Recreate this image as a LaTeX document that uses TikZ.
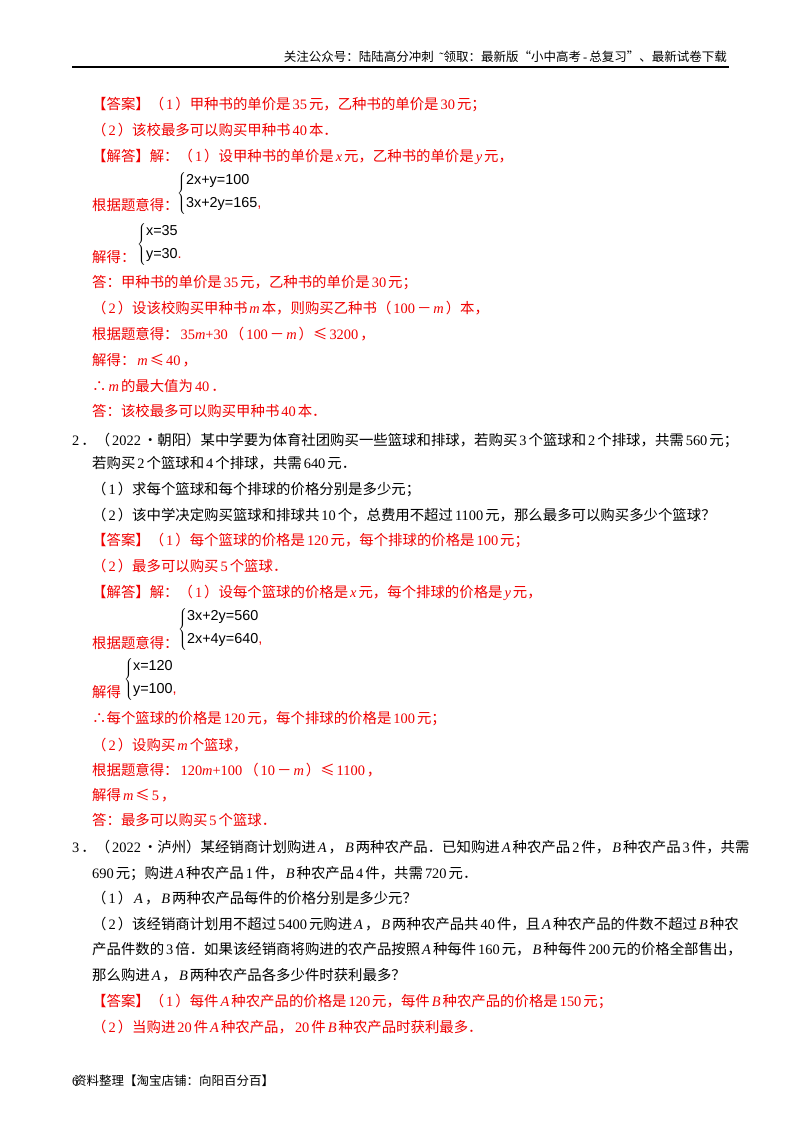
\documentclass[tikz,border=0pt]{standalone}
\usepackage{fontspec}
\setmainfont{Liberation Serif}
\newfontfamily\cjk{Noto Sans CJK SC}
\newfontfamily\sysf{Liberation Sans}
\newcount\cc
\cc="3000 \loop \XeTeXcharclass\cc=1 \advance\cc by 1 \ifnum\cc<"A000 \repeat
\cc="FF00 \loop \XeTeXcharclass\cc=1 \advance\cc by 1 \ifnum\cc<"FFF0 \repeat
\XeTeXcharclass`∴=1
\XeTeXcharclass`•=1
\XeTeXcharclass`≤=1
\XeTeXcharclass`“=1
\XeTeXcharclass`”=1
\XeTeXinterchartokenstate=1
\XeTeXinterchartoks 0 1 = {\hskip2pt\cjk}
\XeTeXinterchartoks 1 0 = {\hskip2pt\rmfamily}
\XeTeXinterchartoks 4095 1 = {\cjk}
\newcommand\vi[1]{\hskip2pt\textit{\rmfamily #1}\hskip2pt}
\definecolor{ans}{RGB}{240,0,0}
\tikzset{
 txt/.style={anchor=base west,inner sep=0pt,font=\fontsize{14.4}{17}\selectfont},
 rtxt/.style={txt,text=ans},
 sysn/.style={anchor=west,inner sep=0pt,font=\fontsize{14.4}{17}\selectfont}
}
\begin{document}
\begin{tikzpicture}[x=1pt,y=-1pt]
\useasboundingbox[fill=white] (0,0) rectangle (800,1132);
% header
\node[anchor=base east,inner sep=0pt,font=\fontsize{12.5}{14}\selectfont\cjk] (hd) at (727,62) {关注公众号：陆陆高分冲刺\ \ {\rmfamily ˜}领取：最新版“小中高考-总复习”、最新试卷下载};
\coordinate (r1) at (72,67); \coordinate (r2) at (729,67);
\draw[line width=1.5pt] (r1) -- (r2);
% block 1
\node[rtxt] (a1) at (92,109) {【答案】（1）甲种书的单价是35元，乙种书的单价是30元；};
\node[rtxt] (a2) at (92,135) {（2）该校最多可以购买甲种书40本．};
\node[rtxt] (a3) at (92,161) {【解答】解：（1）设甲种书的单价是\vi{x}元，乙种书的单价是\vi{y}元，};
\node[rtxt] (a4) at (92,210) {根据题意得：};
\node[sysn] (s1) at (177,193) {$\left\{\begin{array}{@{}l@{}}\mbox{\sysf 2x+y=100}\\[6pt]\mbox{\sysf 3x+2y=165\textcolor{ans}{,}}\end{array}\right.$};
\node[rtxt] (a5) at (92,262) {解得：};
\node[sysn] (s2) at (137,244) {$\left\{\begin{array}{@{}l@{}}\mbox{\sysf x=35}\\[6pt]\mbox{\sysf y=30\textcolor{ans}{.}}\end{array}\right.$};
\node[rtxt] (a6) at (92,287) {答：甲种书的单价是35元，乙种书的单价是30元；};
\node[rtxt] (a7) at (92,313) {（2）设该校购买甲种书\vi{m}本，则购买乙种书（100－\vi{m}）本，};
\node[rtxt] (a8) at (92,339) {根据题意得：35\textit{m}+30（100－\vi{m}）≤3200，};
\node[rtxt] (a9) at (92,365) {解得：\vi{m}≤40，};
\node[rtxt] (a10) at (92,391) {∴\vi{m}的最大值为40．};
\node[rtxt] (a11) at (92,416) {答：该校最多可以购买甲种书40本．};
% block 2
\node[txt] (b1) at (72,445) {2．（2022•朝阳）某中学要为体育社团购买一些篮球和排球，若购买3个篮球和2个排球，共需560元；};
\node[txt] (b2) at (92,468) {若购买2个篮球和4个排球，共需640元．};
\node[txt] (b3) at (92,494) {（1）求每个篮球和每个排球的价格分别是多少元；};
\node[txt] (b4) at (92,520) {（2）该中学决定购买篮球和排球共10个，总费用不超过1100元，那么最多可以购买多少个篮球？};
\node[rtxt] (b5) at (92,545) {【答案】（1）每个篮球的价格是120元，每个排球的价格是100元；};
\node[rtxt] (b6) at (92,571) {（2）最多可以购买5个篮球．};
\node[rtxt] (b7) at (92,597) {【解答】解：（1）设每个篮球的价格是\vi{x}元，每个排球的价格是\vi{y}元，};
\node[rtxt] (b8) at (92,648) {根据题意得：};
\node[sysn] (s3) at (178,629) {$\left\{\begin{array}{@{}l@{}}\mbox{\sysf 3x+2y=560}\\[6pt]\mbox{\sysf 2x+4y=640\textcolor{ans}{,}}\end{array}\right.$};
\node[rtxt] (b9) at (92,697) {解得};
\node[sysn] (s4) at (124,679) {$\left\{\begin{array}{@{}l@{}}\mbox{\sysf x=120}\\[6pt]\mbox{\sysf y=100\textcolor{ans}{,}}\end{array}\right.$};
\node[rtxt] (b10) at (92,723) {∴每个篮球的价格是120元，每个排球的价格是100元；};
\node[rtxt] (b11) at (92,750) {（2）设购买\vi{m}个篮球，};
\node[rtxt] (b12) at (92,775) {根据题意得：120\textit{m}+100（10－\vi{m}）≤1100，};
\node[rtxt] (b13) at (92,800) {解得\vi{m}≤5，};
\node[rtxt] (b14) at (92,825) {答：最多可以购买5个篮球．};
% block 3
\node[txt] (c1) at (72,852) {3．（2022•泸州）某经销商计划购进\vi{A}，\vi{B}两种农产品．已知购进\vi{A}种农产品2件，\vi{B}种农产品3件，共需};
\node[txt] (c2) at (92,878) {690元；购进\vi{A}种农产品1件，\vi{B}种农产品4件，共需720元．};
\node[txt] (c3) at (92,903) {（1）\vi{A}，\vi{B}两种农产品每件的价格分别是多少元？};
\node[txt] (c4) at (92,929) {（2）该经销商计划用不超过5400元购进\vi{A}，\vi{B}两种农产品共40件，且\vi{A}种农产品的件数不超过\vi{B}种农};
\node[txt] (c5) at (92,954) {产品件数的3倍．如果该经销商将购进的农产品按照\vi{A}种每件160元，\vi{B}种每件200元的价格全部售出，};
\node[txt] (c6) at (92,980) {那么购进\vi{A}，\vi{B}两种农产品各多少件时获利最多？};
\node[rtxt] (c7) at (92,1006) {【答案】（1）每件\vi{A}种农产品的价格是120元，每件\vi{B}种农产品的价格是150元；};
\node[rtxt] (c8) at (92,1032) {（2）当购进20件\vi{A}种农产品，20件\vi{B}种农产品时获利最多．};
% footer
\node[anchor=base west,inner sep=0pt,font=\fontsize{12.5}{14}\selectfont] (f0) at (72,1085) {6};
\node[anchor=base west,inner sep=0pt,font=\fontsize{12.5}{14}\selectfont\cjk] (f1) at (74,1085) {资料整理【淘宝店铺：向阳百分百】};
\end{tikzpicture}
\end{document}
